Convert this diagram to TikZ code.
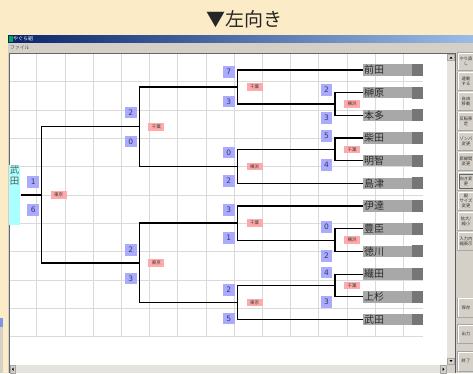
\documentclass[tikz,border=0pt]{standalone}
\usepackage{fontspec}
\newfontfamily\jp{Noto Sans CJK JP}
\newfontfamily\dv{DejaVu Sans}
\definecolor{cream}{HTML}{FCEBC7}
\definecolor{panel}{HTML}{D4D0C8}
\definecolor{track}{HTML}{E6E3DE}
\definecolor{gridc}{HTML}{DADADA}
\definecolor{scoreblue}{HTML}{AAAAFF}
\definecolor{scorefg}{HTML}{3A3A5A}
\definecolor{redlab}{HTML}{FFAAAA}
\definecolor{namegray}{HTML}{A8A8A8}
\definecolor{namedark}{HTML}{767676}
\definecolor{namefg}{HTML}{2A2A2A}
\definecolor{wincyan}{HTML}{AAFFFF}
\definecolor{navy}{HTML}{0A246A}
\definecolor{skyb}{HTML}{9CBCE6}
\begin{document}
\begin{tikzpicture}[x=1pt,y=-1pt,
  team/.style={anchor=west, fill=namegray, text width=58pt, inner xsep=1pt, inner ysep=0pt,
    minimum height=11.5pt, align=left, text=namefg, font=\jp\fontsize{10}{11}\selectfont},
  score/.style={fill=scoreblue, minimum width=11.7pt, minimum height=11.7pt, inner sep=0pt,
    text=scorefg, font=\dv\fontsize{7.5}{8}\selectfont},
  venue/.style={anchor=west, fill=redlab, minimum width=16pt, minimum height=7.6pt, inner sep=0pt,
    text=black!80, font=\jp\fontsize{4.5}{5}\selectfont},
  bline/.style={line width=1.5pt, black},
  iline/.style={line width=1.2pt, black},
  btn/.style={fill=panel, draw=gray!70, line width=0.5pt},
  btntext/.style={align=center, text=black!80, font=\jp\fontsize{4.3}{5}\selectfont, inner sep=0pt}]
\useasboundingbox (0,0) rectangle (473,373);
\fill[cream] (0,0) rectangle (473,373);
% title
\node[text=black!85, font=\jp\fontsize{19}{19}\selectfont] (title) at (244,19) {▼左向き};
% left edge fragments
\fill[skyb!80!blue] (0,318) rectangle (2.5,327);
\fill[panel] (0,327) rectangle (2.5,373);
% window
\shade[left color=navy, right color=skyb] (8,35) rectangle (473,43);
\fill[teal!70!green] (9,36) rectangle (12.5,41.5);
\node[anchor=west, text=white, font=\jp\fontsize{5}{5}\selectfont, inner sep=0pt] (wtitle) at (13,39) {やぐら組};
\fill[panel] (8,43) rectangle (473,53);
\node[anchor=west, text=black!70, font=\jp\fontsize{4.8}{5}\selectfont, inner sep=0pt] (menu) at (10,47.8) {ファイル};
\fill[panel] (8,53) rectangle (473,373);
\fill[white] (9.5,53.5) rectangle (447,365);
\draw[gray!80!black, line width=1pt] (9,373) -- (9,53) -- (456,53);
% grid
\foreach \k in {0,...,13} \draw[gridc, line width=0.8pt] (36.7+28.2*\k,54) -- (36.7+28.2*\k,337);
\foreach \k in {0,...,9} \draw[gridc, line width=0.8pt] (10,81.7+28.33*\k) -- (423,81.7+28.33*\k);
% scrollbars
\fill[track] (447,53.5) rectangle (455,365);
\draw[btn] (447.5,54) rectangle (454.5,60.5);
\fill[black] (449.5,58.5) -- (452.5,58.5) -- (451,56.5) -- cycle;
\draw[btn] (447.5,358) rectangle (454.5,364.5);
\fill[black] (449.5,360) -- (452.5,360) -- (451,362) -- cycle;
\fill[track] (9.5,365) rectangle (447,373);
\draw[btn] (10,365.5) rectangle (15.5,373.5);
\fill[black] (13.5,367.5) -- (13.5,371) -- (11.8,369.2) -- cycle;
\draw[btn] (440,365.5) rectangle (446.5,373.5);
\fill[black] (442.5,367.5) -- (442.5,371) -- (444.3,369.2) -- cycle;
\draw[gray!70!black, line width=0.6pt] (455.3,53) -- (455.3,373);
% right panel buttons
\foreach \n/\ya/\yb/\t in {1/52.5/70.7/{やり直\\し}, 2/72.2/90/{連動\\する}, 3/92/110/{自由\\移動},
  4/112/130/{反転移\\定}, 5/132/150/{ゾンバ\\変更}, 6/152/170/{罫線間\\変更}, 7/172.2/190/{向き変\\更},
  8/192/210/{縦\\サイズ\\変更}, 9/212/230/{拡大/\\縮小}, 10/232/250/{入力内\\縮表示},
  11/298/317/{保存}, 12/324.5/343.5/{出力}, 13/351.5/371/{終了}} {
  \draw[btn] (457.5,\ya) rectangle (476,\yb);
  \draw[white, line width=0.7pt] (458,\yb-0.5) -- (458,\ya+0.5) -- (476,\ya+0.5);
  \node[btntext] (b\n) at (466,{(\ya+\yb)/2}) {\t};
}
\draw[black!60, line width=0.5pt] (459.5,174.2) rectangle (476,188);
% teams
\foreach \i/\nm in {1/前田,2/榊原,3/本多,4/柴田,5/明智,6/島津,7/伊達,8/豊臣,9/徳川,10/織田,11/上杉,12/武田} {
  \node[team] (t\i) at (363,{70+22.68*(\i-1)}) {\nm};
  \fill[namedark] ([xshift=-11.7pt]t\i.north east) rectangle (t\i.south east);
}
% junctions
\coordinate (a) at (335,104.0);
\coordinate (b) at (335,149.4);
\coordinate (c) at (335,240.1);
\coordinate (d) at (335,285.5);
\coordinate (e) at (237.7,87.0);
\coordinate (f) at (237.7,166.4);
\coordinate (g) at (237.7,223.1);
\coordinate (h) at (237.7,302.5);
\coordinate (i) at (139.3,126.7);
\coordinate (j) at (139.3,262.8);
\coordinate (k) at (41.7,194.8);
% winner
\node[fill=wincyan, minimum width=11.6pt, minimum height=60pt, inner sep=0pt] (w) at (14.5,195) {};
\node[anchor=north, align=center, text=black!65, font=\jp\fontsize{9.5}{11}\selectfont, inner sep=0pt] (wt) at ([yshift=-1pt]w.north) {武\\田};
% connectors
\draw[iline] (t2.west) -| (a) |- (t3.west);
\draw[iline] (t4.west) -| (b) |- (t5.west);
\draw[iline] (t8.west) -| (c) |- (t9.west);
\draw[iline] (t10.west) -| (d) |- (t11.west);
\draw[iline] (t1.west) -| (e) |- (a);
\draw[iline] (b) -| (f) |- (t6.west);
\draw[iline] (t7.west) -| (g) |- (c);
\draw[iline] (d) -| (h) |- (t12.west);
\draw[bline] (e) -| (i) |- (f);
\draw[bline] (g) -| (j) |- (h);
\draw[bline] (i) -| (k) |- (j);
\draw[bline] (w.east |- k) -- (k);
% scores
\foreach \nm/\x/\y/\s in {sa1/326.5/90/2, sa2/326.5/118/3, sb1/326.5/136/5, sb2/326.5/165/4,
  sc1/326.5/227/0, sc2/326.5/256/2, sd1/326.5/272.5/4, sd2/326.5/302/3,
  se1/228.8/72/7, se2/228.8/101.5/3, sf1/228.8/152.5/0, sf2/228.8/181/2,
  sg1/228.8/210/3, sg2/228.8/238/1, sh1/228.8/290/2, sh2/228.8/318.5/5,
  si1/130.8/112.5/2, si2/130.8/141.5/0, sj1/130.8/250/2, sj2/130.8/278.5/3,
  sk1/33.2/181.7/1, sk2/33.2/210/6}
  \node[score] (\nm) at (\x,\y) {\s};
% venues
\foreach \jn/\v in {a/横浜, b/千葉, c/横浜, d/千葉, e/千葉, f/横浜, g/千葉, h/東京, i/千葉, j/東京, k/東京}
  \node[venue] (v\jn) at ([xshift=8.8pt]\jn) {\v};
\end{tikzpicture}
\end{document}
